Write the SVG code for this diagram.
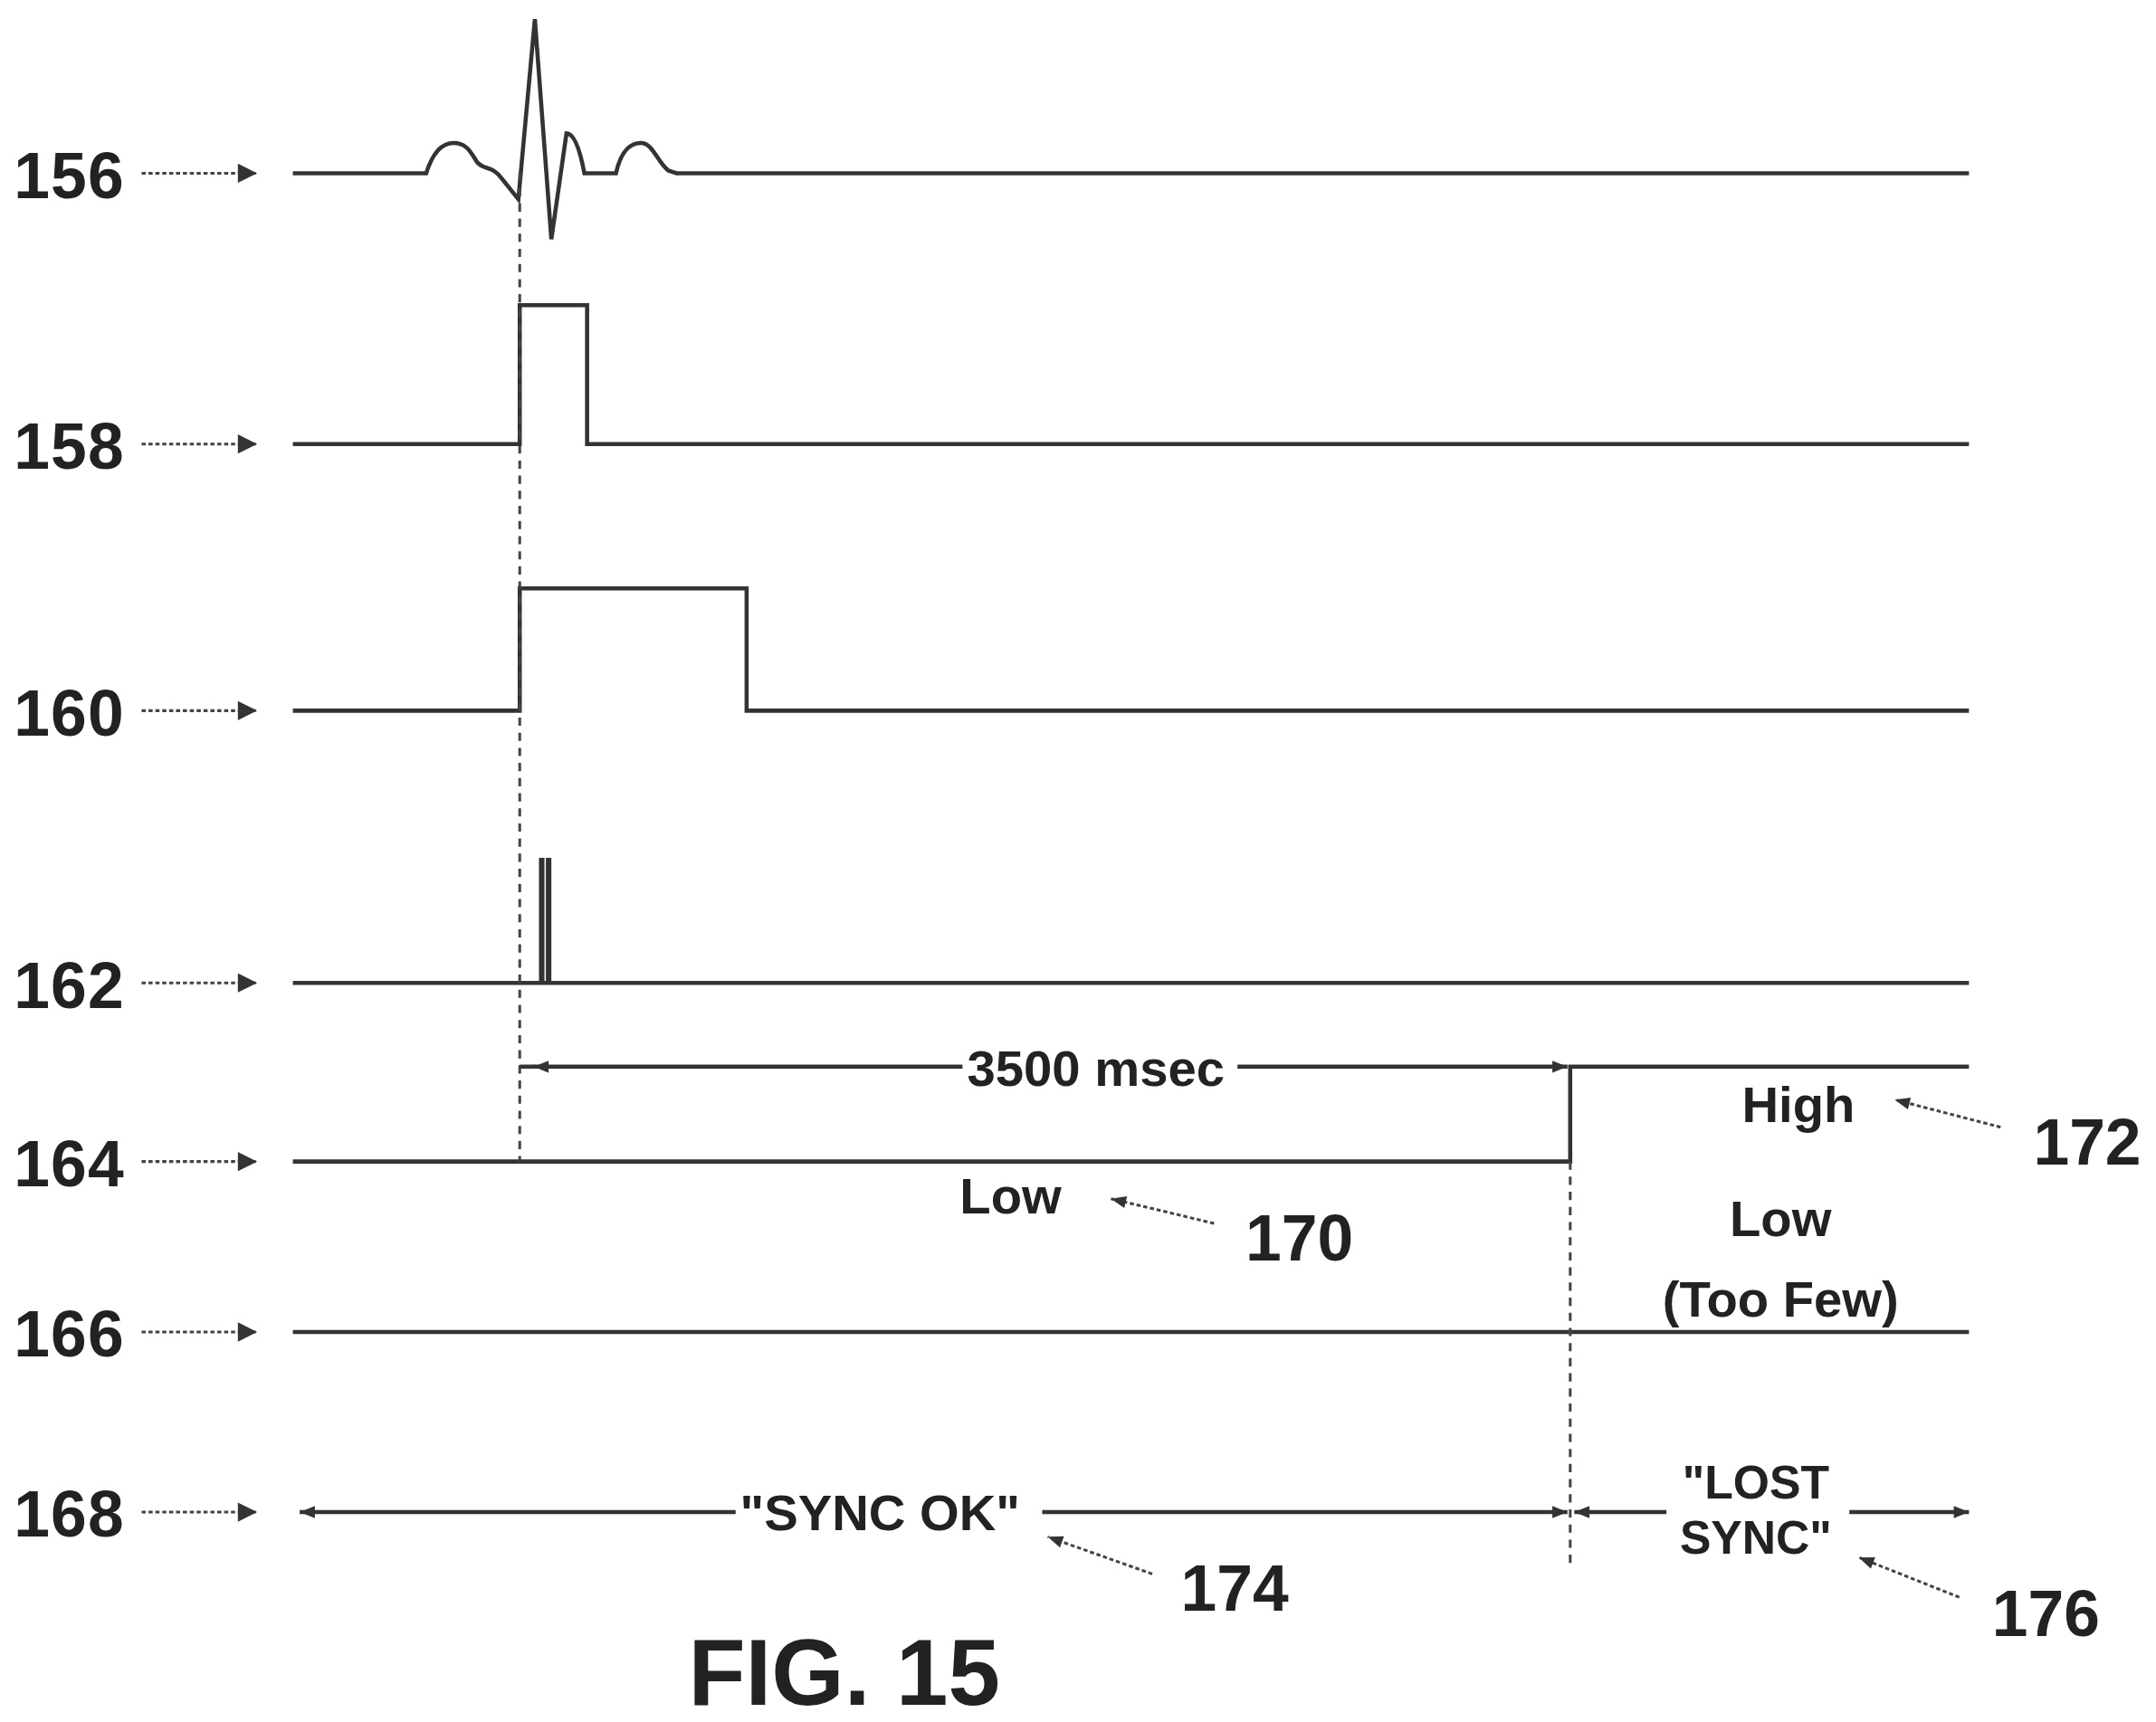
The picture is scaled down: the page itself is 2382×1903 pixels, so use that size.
<svg xmlns="http://www.w3.org/2000/svg" width="2382" height="1903" viewBox="0 0 2382 1903">
<style>
.t{font-family:"Liberation Sans",Arial,sans-serif;font-weight:bold;fill:#222}
.n{font-size:47px}
.s{font-size:37px}
.w{fill:none;stroke:#333;stroke-width:3}
.k{fill:none;stroke:#333;stroke-width:2}
.d{fill:none;stroke:#444;stroke-width:2;stroke-dasharray:6 5}
.p{fill:none;stroke:#444;stroke-width:2;stroke-dasharray:3 2}
</style>
<defs>
<marker id="ah" viewBox="0 0 10 10" refX="10" refY="5" markerWidth="18" markerHeight="11" markerUnits="userSpaceOnUse" orient="auto-start-reverse"><path d="M0,1 L10,5 L0,9 Z" fill="#333"/></marker>
<marker id="big" viewBox="0 0 10 10" refX="10" refY="5" markerWidth="37" markerHeight="14" markerUnits="userSpaceOnUse" orient="auto"><path d="M0,0 L10,5 L0,10 Z" fill="#333"/></marker>
</defs>
<rect width="2382" height="1903" fill="#fff"/>
<g transform="scale(1.5191)">
<g id="labels">
<g id="l156"><text class="t n" x="10" y="144" textLength="80">156</text><line class="p" x1="103" y1="126" x2="187" y2="126" marker-end="url(#big)"/></g>
<g id="l158"><text class="t n" x="10" y="341" textLength="80">158</text><line class="p" x1="103" y1="323" x2="187" y2="323" marker-end="url(#big)"/></g>
<g id="l160"><text class="t n" x="10" y="535" textLength="80">160</text><line class="p" x1="103" y1="517" x2="187" y2="517" marker-end="url(#big)"/></g>
<g id="l162"><text class="t n" x="10" y="733" textLength="80">162</text><line class="p" x1="103" y1="715" x2="187" y2="715" marker-end="url(#big)"/></g>
<g id="l164"><text class="t n" x="10" y="863" textLength="80">164</text><line class="p" x1="103" y1="845" x2="187" y2="845" marker-end="url(#big)"/></g>
<g id="l166"><text class="t n" x="10" y="987" textLength="80">166</text><line class="p" x1="103" y1="969" x2="187" y2="969" marker-end="url(#big)"/></g>
<g id="l168"><text class="t n" x="10" y="1118" textLength="80">168</text><line class="p" x1="103" y1="1100" x2="187" y2="1100" marker-end="url(#big)"/></g>
</g>
<g id="traces">
<path class="w" d="M213,126 L310,126 C315,110 322,104 330,104 C340,104 343,112 347,118 C352,124 358,120 365,130 L377,145 L389,14 L401,174 L412,97 C418,97 422,110 425,126 L448,126 C452,108 460,104 466,104 C475,104 478,118 486,124 L492,126 L1432,126"/>
<path class="w" d="M213,323 H378 V222 H427 V323 H1432"/>
<path class="w" d="M213,517 H378 V428 H543 V517 H1432"/>
<path class="w" d="M213,715 H1432"/>
<path class="k" d="M393,715 V625 H395 V715 M398,715 V625 H400 V715"/>
<path class="w" d="M213,845 H1142 V776 H1432"/>
<path class="w" d="M213,969 H1432"/>
</g>
<g id="connectors">
<line class="d" x1="378" y1="126" x2="378" y2="845"/>
<line class="d" x1="1142" y1="845" x2="1142" y2="1142"/>
<line class="w" x1="378" y1="776" x2="700" y2="776"/>
<line class="w" x1="388" y1="776" x2="389" y2="776" marker-start="url(#ah)"/>
<line class="w" x1="900" y1="776" x2="1140" y2="776" marker-end="url(#ah)"/>
<line class="w" x1="218" y1="1100" x2="535" y2="1100" marker-start="url(#ah)"/>
<line class="w" x1="758" y1="1100" x2="1140" y2="1100" marker-end="url(#ah)"/>
<line class="w" x1="1145" y1="1100" x2="1212" y2="1100" marker-start="url(#ah)"/>
<line class="w" x1="1345" y1="1100" x2="1432" y2="1100" marker-end="url(#ah)"/>
<line class="p" x1="1455" y1="820" x2="1378" y2="800" marker-end="url(#ah)"/>
<line class="p" x1="883" y1="890" x2="808" y2="872" marker-end="url(#ah)"/>
<line class="p" x1="838" y1="1145" x2="762" y2="1118" marker-end="url(#ah)"/>
<line class="p" x1="1425" y1="1162" x2="1352" y2="1133" marker-end="url(#ah)"/>
</g>
<g id="texts">
<text class="t s" x="797" y="790" text-anchor="middle">3500 msec</text>
<text class="t s" x="1308" y="816" text-anchor="middle">High</text>
<text class="t n" x="1518" y="847" text-anchor="middle">172</text>
<text class="t s" x="735" y="883" text-anchor="middle">Low</text>
<text class="t n" x="945" y="917" text-anchor="middle">170</text>
<text class="t s" x="1295" y="899" text-anchor="middle">Low</text>
<text class="t s" x="1295" y="958" text-anchor="middle">(Too Few)</text>
<text class="t s" x="640" y="1113" text-anchor="middle">"SYNC OK"</text>
<text class="t" style="font-size:34px" x="1277" y="1090" text-anchor="middle">"LOST</text>
<text class="t" style="font-size:34px" x="1277" y="1130" text-anchor="middle">SYNC"</text>
<text class="t n" x="898" y="1172" text-anchor="middle">174</text>
<text class="t n" x="1488" y="1190" text-anchor="middle">176</text>
<text class="t" style="font-size:68px" x="614" y="1240" text-anchor="middle">FIG. 15</text>
</g>
</g>
</svg>
